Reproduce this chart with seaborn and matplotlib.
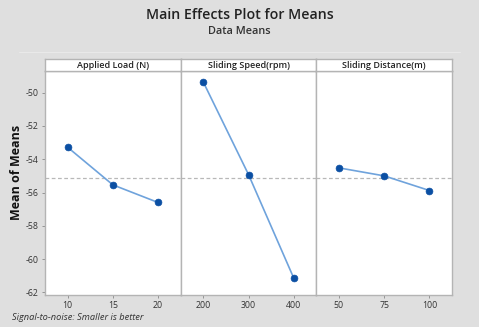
import numpy as np
import pandas as pd
import matplotlib
matplotlib.use("Agg")
import matplotlib.pyplot as plt
import seaborn as sns

# ---- data ----
factors = ["Applied Load (N)", "Sliding Speed(rpm)", "Sliding Distance(m)"]
load_levels = ["10", "15", "20"]
load_means = [-53.28, -55.54, -56.60]
speed_levels = ["200", "300", "400"]
speed_means = [-49.36, -54.92, -61.14]
dist_levels = ["50", "75", "100"]
dist_means = [-54.52, -55.00, -55.88]
y_ticks = [-50, -52, -54, -56, -58, -60, -62]

levels = [load_levels, speed_levels, dist_levels]
means = [load_means, speed_means, dist_means]
rows = []
for f, lv, mv in zip(factors, levels, means):
    for l, m in zip(lv, mv):
        rows.append({"factor": f, "level": l, "mean": m})
df = pd.DataFrame(rows)
grand_mean = df["mean"].mean()

sns.set_theme(style="white")
plt.rcParams["font.family"] = ["Open Sans", "DejaVu Sans"]

W, H = 479, 327
fig = plt.figure(figsize=(W / 100, H / 100), dpi=100)
fig.patch.set_facecolor("#dfdfdf")

line_col = "#6fa3dc"
mark_col = "#0b4fa3"
spine_col = "#b4b4b4"

left_px, right_px = 45, 452
top_px, bot_px = 70.7, 295
strip_top = 59.3
pw = (right_px - left_px) / 3

for i, f in enumerate(factors):
    x0 = left_px + i * pw
    ax = fig.add_axes([x0 / W, 1 - bot_px / H, pw / W, (bot_px - top_px) / H])
    ax.set_facecolor("white")
    sub = df[df["factor"] == f]
    sns.lineplot(data=sub, x="level", y="mean", ax=ax, color=line_col, lw=1.2,
                 sort=False, zorder=2)
    sns.scatterplot(data=sub, x="level", y="mean", ax=ax, color=mark_col, s=24,
                    edgecolor=mark_col, linewidth=0.5, zorder=3)
    ax.axhline(grand_mean, color="#b8b8b8", ls=(0, (3, 2)), lw=0.9, zorder=1)
    ax.set_xlim(-0.5, 2.5)
    ax.set_ylim(-62.16, -48.68)
    ax.set_xlabel("")
    ax.set_ylabel("")
    for s in ax.spines.values():
        s.set_color(spine_col)
        s.set_linewidth(1.0)
    ax.tick_params(axis="x", length=2.5, width=0.6, color="#888888", labelsize=6.3,
                   pad=2, labelcolor="#333333", bottom=True)
    if i == 0:
        ax.set_yticks(y_ticks)
        ax.set_yticklabels([str(v) for v in y_ticks])
        ax.tick_params(axis="y", length=2.5, width=0.6, color="#888888", labelsize=6.3,
                       pad=2, labelcolor="#333333", left=True)
        ax.set_ylabel("Mean of Means", fontsize=9, fontweight="bold", color="#111111")
        ax.yaxis.set_label_coords(-0.165, 0.545)
    else:
        ax.set_yticks(y_ticks)
        ax.set_yticklabels([])
        ax.tick_params(axis="y", left=False)
    # strip header
    sax = fig.add_axes([x0 / W, 1 - top_px / H, pw / W, (top_px - strip_top) / H])
    sax.set_facecolor("white")
    sax.set_xticks([])
    sax.set_yticks([])
    for s in sax.spines.values():
        s.set_color(spine_col)
        s.set_linewidth(1.0)
    sax.text(0.5, 0.45, f, ha="center", va="center", fontsize=6.5,
             fontweight="semibold", color="#222222", transform=sax.transAxes)

fig.text(0.5, 1 - 15 / H, "Main Effects Plot for Means", ha="center", va="center",
         fontsize=10.2, fontweight="semibold", color="#222222")
fig.text(0.5, 1 - 31 / H, "Data Means", ha="center", va="center",
         fontsize=7.8, fontweight="semibold", color="#333333")
fig.lines.append(plt.Line2D([0.04, 0.96], [1 - 51.7 / H, 1 - 51.7 / H],
                            transform=fig.transFigure, color="#e9e9e9", lw=0.8))
fig.text(12 / W, 1 - 318 / H, "Signal-to-noise: Smaller is better", ha="left",
         va="center", fontsize=6.7, style="italic", color="#333333")

fig.savefig("out.png", dpi=100, facecolor=fig.get_facecolor())
